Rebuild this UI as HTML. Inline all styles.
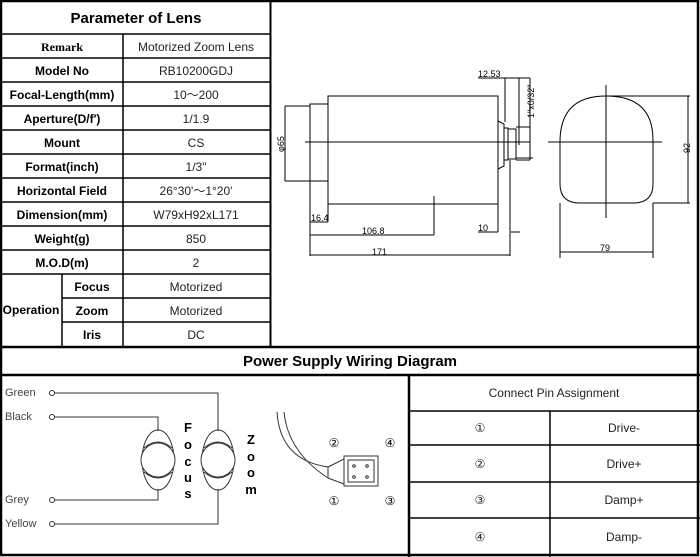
<!DOCTYPE html>
<html><head><meta charset="utf-8"><style>
html,body{margin:0;padding:0;background:#fff;}
svg{display:block;}
text{font-family:"Liberation Sans",Arial,sans-serif;fill:#000;}
.b{font-weight:bold;font-size:12px;}
.n{font-size:12px;fill:#222;}
.t{font-size:15px;font-weight:bold;}
.d{font-size:9px;}
</style></head><body>
<svg width="700" height="557" viewBox="0 0 700 557" xmlns="http://www.w3.org/2000/svg">
<rect x="0" y="0" width="700" height="557" fill="#fff"/>
<!-- outer frame -->
<rect x="1" y="1" width="697" height="554" fill="none" stroke="#000" stroke-width="2.5"/>
<!-- main dividers -->
<line x1="270.5" y1="0" x2="270.5" y2="347" stroke="#000" stroke-width="2"/>
<line x1="0" y1="347" x2="700" y2="347" stroke="#000" stroke-width="2.5"/>
<line x1="0" y1="375" x2="700" y2="375" stroke="#000" stroke-width="2.5"/>
<line x1="409" y1="375" x2="409" y2="557" stroke="#000" stroke-width="2.5"/>
<!-- param table lines -->
<g stroke="#000" stroke-width="1.5">
<line x1="0" y1="34" x2="270" y2="34"/>
<line x1="0" y1="58" x2="270" y2="58"/>
<line x1="0" y1="82" x2="270" y2="82"/>
<line x1="0" y1="106" x2="270" y2="106"/>
<line x1="0" y1="130" x2="270" y2="130"/>
<line x1="0" y1="154" x2="270" y2="154"/>
<line x1="0" y1="178" x2="270" y2="178"/>
<line x1="0" y1="202" x2="270" y2="202"/>
<line x1="0" y1="226" x2="270" y2="226"/>
<line x1="0" y1="250" x2="270" y2="250"/>
<line x1="0" y1="274" x2="270" y2="274"/>
<line x1="62" y1="298" x2="270" y2="298"/>
<line x1="62" y1="322" x2="270" y2="322"/>
<line x1="123" y1="34" x2="123" y2="347"/>
<line x1="62" y1="274" x2="62" y2="347"/>
</g>
<text class="t" x="136" y="23" text-anchor="middle">Parameter of Lens</text>
<text x="62" y="51" text-anchor="middle" style="font-family:'Liberation Serif',serif;font-weight:bold;font-size:12px">Remark</text>
<g class="b" text-anchor="middle">
<text class="b" x="62" y="75">Model No</text>
<text class="b" x="62" y="99">Focal-Length(mm)</text>
<text class="b" x="62" y="123">Aperture(D/f')</text>
<text class="b" x="62" y="147">Mount</text>
<text class="b" x="62" y="171">Format(inch)</text>
<text class="b" x="62" y="195">Horizontal Field</text>
<text class="b" x="62" y="219">Dimension(mm)</text>
<text class="b" x="62" y="243">Weight(g)</text>
<text class="b" x="62" y="267">M.O.D(m)</text>
<text class="b" x="31" y="314">Operation</text>
<text class="b" x="92" y="291">Focus</text>
<text class="b" x="92" y="315">Zoom</text>
<text class="b" x="92" y="339">Iris</text>
</g>
<g text-anchor="middle">
<text class="n" x="196" y="51">Motorized Zoom Lens</text>
<text class="n" x="196" y="75">RB10200GDJ</text>
<text class="n" x="196" y="99">10～200</text>
<text class="n" x="196" y="123">1/1.9</text>
<text class="n" x="196" y="147">CS</text>
<text class="n" x="196" y="171">1/3"</text>
<text class="n" x="196" y="195">26°30'～1°20'</text>
<text class="n" x="196" y="219">W79xH92xL171</text>
<text class="n" x="196" y="243">850</text>
<text class="n" x="196" y="267">2</text>
<text class="n" x="196" y="291">Motorized</text>
<text class="n" x="196" y="315">Motorized</text>
<text class="n" x="196" y="339">DC</text>
</g>

<!-- mechanical drawing -->
<g stroke="#000" stroke-width="1" fill="none">
<rect x="310" y="104" width="18" height="77"/>
<rect x="328" y="96" width="170" height="108"/>
<polyline points="498,121 504,124 504,166 498,169"/>
<rect x="504" y="128" width="4" height="32"/>
<rect x="508" y="129" width="8" height="30"/>
<line x1="516" y1="127" x2="530" y2="127"/>
<line x1="516" y1="160" x2="530" y2="160"/>
<line x1="305" y1="142" x2="530" y2="142"/>
<!-- phi65 dim -->
<line x1="285" y1="106" x2="310" y2="106"/>
<line x1="285" y1="181" x2="310" y2="181"/>
<line x1="285" y1="106" x2="285" y2="181"/>
<!-- bottom dims -->
<line x1="310" y1="181" x2="310" y2="256"/>
<line x1="328" y1="204" x2="328" y2="222"/>
<line x1="310" y1="222" x2="328" y2="222"/>
<line x1="310" y1="235" x2="434" y2="235"/>
<line x1="434" y1="196" x2="434" y2="235"/>
<line x1="498" y1="204" x2="498" y2="232"/>
<line x1="478" y1="232" x2="498" y2="232"/>
<line x1="511" y1="232" x2="520" y2="232"/>
<line x1="510" y1="160" x2="510" y2="256"/>
<line x1="310" y1="255" x2="510" y2="255"/>
<!-- top right dims -->
<line x1="478" y1="78" x2="530" y2="78"/>
<line x1="505" y1="78" x2="505" y2="122"/>
<line x1="519" y1="78" x2="519" y2="145"/>
<line x1="530" y1="78" x2="530" y2="160"/>
<line x1="516" y1="158" x2="533" y2="158"/>
<!-- side view -->
<path d="M560 142 L560 184 Q560 203 580 203 L633 203 Q653 203 653 184 L653 140 Q653 96 606 96 Q560 96 560 142 Z"/>
<line x1="548" y1="142" x2="662" y2="142"/>
<line x1="606" y1="85" x2="606" y2="218"/>
<line x1="606" y1="96" x2="690" y2="96"/>
<line x1="653" y1="203" x2="690" y2="203"/>
<line x1="688" y1="96" x2="688" y2="203"/>
<line x1="560" y1="203" x2="560" y2="258"/>
<line x1="653" y1="203" x2="653" y2="258"/>
<line x1="560" y1="252" x2="653" y2="252"/>
</g>
<g class="d">
<text class="d" x="478" y="77">12.53</text>
<text class="d" x="311" y="221">16.4</text>
<text class="d" x="362" y="234">106.8</text>
<text class="d" x="478" y="231">10</text>
<text class="d" x="372" y="255">171</text>
<text class="d" x="600" y="251">79</text>
<text class="d" transform="translate(284,152) rotate(-90)">φ65</text>
<text class="d" transform="translate(690,153) rotate(-90)">92</text>
<text class="d" transform="translate(534,118) rotate(-90)">1"x0/32"</text>
</g>

<!-- power supply -->
<text class="t" x="350" y="366" text-anchor="middle">Power Supply Wiring Diagram</text>
<g style="font-size:11px" fill="#444">
<text x="5" y="396" style="font-size:11px;fill:#444">Green</text>
<text x="5" y="420" style="font-size:11px;fill:#444">Black</text>
<text x="5" y="503" style="font-size:11px;fill:#444">Grey</text>
<text x="5" y="527" style="font-size:11px;fill:#444">Yellow</text>
</g>
<g stroke="#333" stroke-width="1" fill="none">
<circle cx="52" cy="393" r="2.5"/><circle cx="52" cy="417" r="2.5"/>
<circle cx="52" cy="500" r="2.5"/><circle cx="52" cy="524" r="2.5"/>
<polyline points="55,393 218,393 218,431"/>
<polyline points="55,417 158,417 158,431"/>
<polyline points="55,500 158,500 158,489"/>
<polyline points="55,524 218,524 218,489"/>
<!-- focus motor -->
<ellipse cx="158" cy="460" rx="16" ry="30"/>
<circle cx="158" cy="460" r="17" fill="#fff"/>
<path d="M144 448 Q158 436 172 448"/>
<path d="M144 472 Q158 484 172 472"/>
<ellipse cx="218" cy="460" rx="16" ry="30"/>
<circle cx="218" cy="460" r="17" fill="#fff"/>
<path d="M204 448 Q218 436 232 448"/>
<path d="M204 472 Q218 484 232 472"/>
<!-- cable -->
<path d="M277 412 Q280 460 328 467"/>
<path d="M284 412 Q288 452 328 478"/>
<polyline points="328,467 344,459"/>
<polyline points="328,478 344,484"/>
<line x1="328" y1="467" x2="328" y2="478"/>
<rect x="344" y="456" width="34" height="30"/>
<rect x="348" y="460" width="26" height="22"/>
<circle cx="354" cy="466" r="1.3"/><circle cx="367" cy="466" r="1.3"/>
<circle cx="354" cy="477" r="1.3"/><circle cx="367" cy="477" r="1.3"/>
</g>
<g style="font-weight:bold;font-size:13px" text-anchor="middle">
<text x="188" y="432" style="font-weight:bold;font-size:13px">F</text>
<text x="188" y="449" style="font-weight:bold;font-size:13px">o</text>
<text x="188" y="466" style="font-weight:bold;font-size:13px">c</text>
<text x="188" y="482" style="font-weight:bold;font-size:13px">u</text>
<text x="188" y="498" style="font-weight:bold;font-size:13px">s</text>
<text x="251" y="444" style="font-weight:bold;font-size:13px">Z</text>
<text x="251" y="461" style="font-weight:bold;font-size:13px">o</text>
<text x="251" y="477" style="font-weight:bold;font-size:13px">o</text>
<text x="251" y="494" style="font-weight:bold;font-size:13px">m</text>
</g>
<g text-anchor="middle" style="font-size:12px">
<text x="334" y="447" style="font-size:12px">②</text>
<text x="390" y="447" style="font-size:12px">④</text>
<text x="334" y="505" style="font-size:12px">①</text>
<text x="390" y="505" style="font-size:12px">③</text>
</g>

<!-- pin table -->
<g stroke="#000" stroke-width="1.5">
<line x1="409" y1="411" x2="700" y2="411"/>
<line x1="409" y1="445" x2="700" y2="445"/>
<line x1="409" y1="482" x2="700" y2="482"/>
<line x1="409" y1="518" x2="700" y2="518"/>
<line x1="550" y1="411" x2="550" y2="557"/>
</g>
<g text-anchor="middle">
<text class="n" x="554" y="397">Connect Pin Assignment</text>
<text class="n" x="480" y="432">①</text>
<text class="n" x="624" y="432">Drive-</text>
<text class="n" x="480" y="468">②</text>
<text class="n" x="624" y="468">Drive+</text>
<text class="n" x="480" y="504">③</text>
<text class="n" x="624" y="504">Damp+</text>
<text class="n" x="480" y="541">④</text>
<text class="n" x="624" y="541">Damp-</text>
</g>
</svg>
</body></html>
